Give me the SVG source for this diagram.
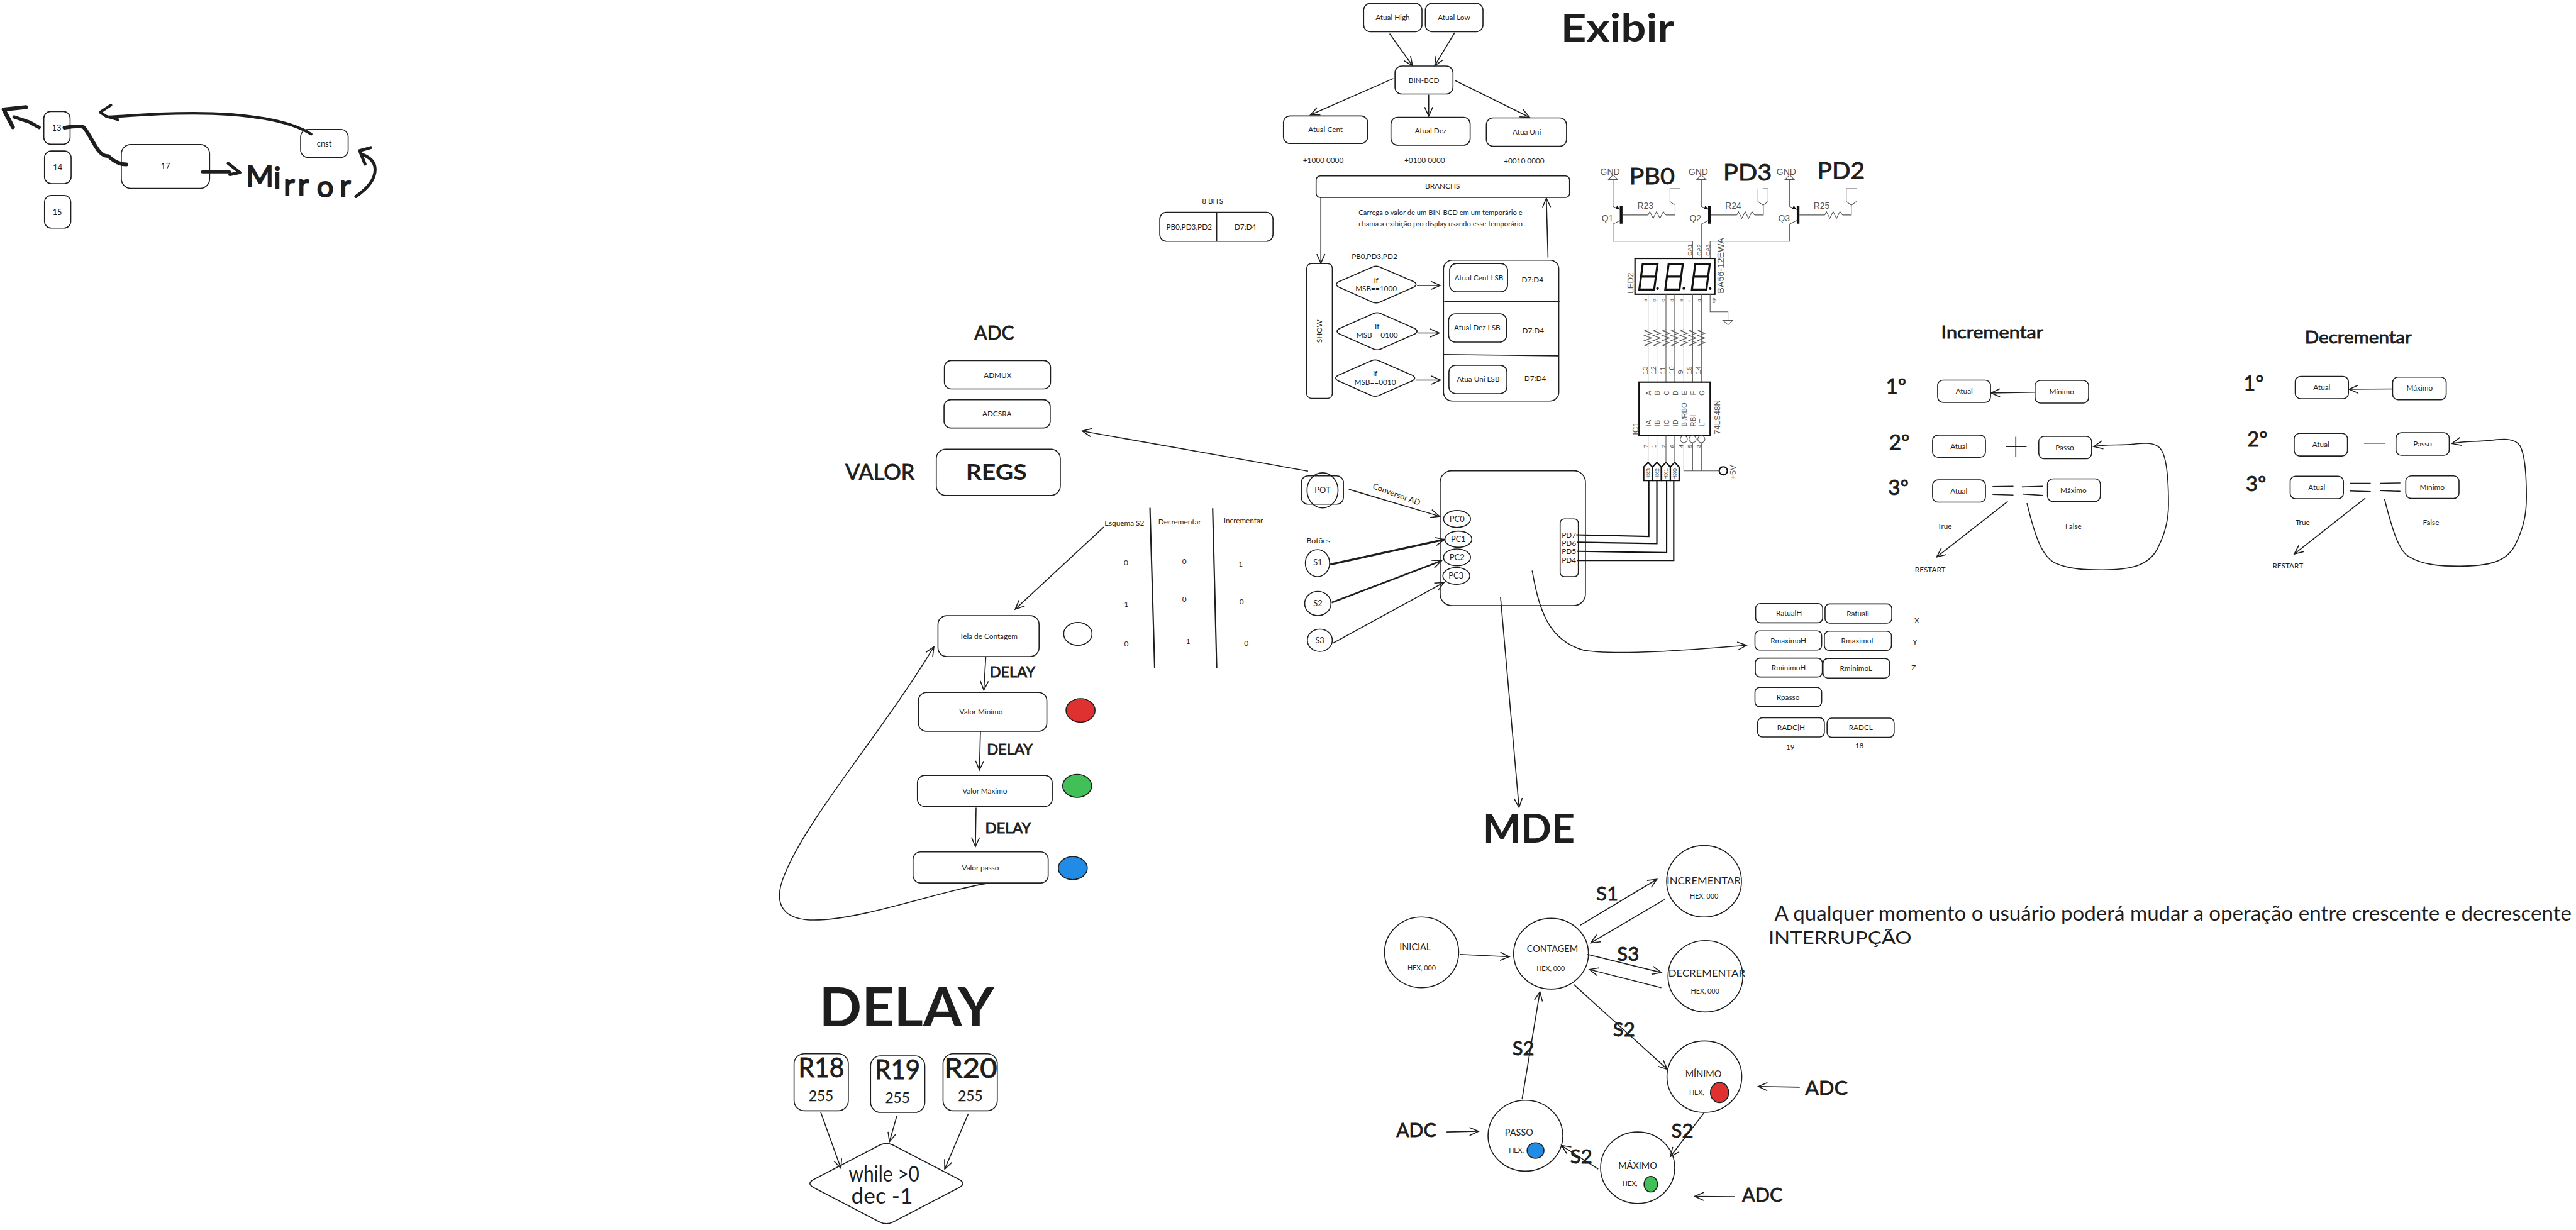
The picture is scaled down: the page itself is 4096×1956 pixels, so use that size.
<svg xmlns="http://www.w3.org/2000/svg" width="4096" height="1956" viewBox="0 0 4096 1956">
<style>
text{font-family:Lato,"Liberation Sans",sans-serif;fill:#1e1e1e}
.t{font-size:22px;text-anchor:middle;dominant-baseline:central}
.b{fill:none;stroke:#1e1e1e;stroke-width:3}
.f{stroke:#1e1e1e;stroke-width:3}
.c{fill:none;stroke:#1e1e1e;stroke-width:3;marker-end:url(#a)}
.l{fill:none;stroke:#1e1e1e;stroke-width:3}
.k{fill:none;stroke:#1e1e1e;stroke-width:10;stroke-linecap:round;stroke-linejoin:round}
.h{font-weight:700;text-anchor:middle}
.m text,text.m{stroke:#1e1e1e;stroke-width:1.600px}
.s text{font-family:"Liberation Sans",Arial,sans-serif;fill:#555}
.w{fill:none;stroke:#555;stroke-width:2}
.x{fill:none;stroke:#111;stroke-width:4}
.d{fill:none;stroke:#111;stroke-width:6}
.p{fill:#111}
</style>
<defs>
<marker id="a" markerUnits="userSpaceOnUse" markerWidth="40" markerHeight="40" viewBox="-34 -20 40 40" refX="0" refY="0" orient="auto" overflow="visible"><path d="M-27,-12L0,0L-27,12" fill="none" stroke="#1e1e1e" stroke-width="3"/></marker>
<path id="rz" d="M0,528l-11,4 22,7-22,7 22,7-22,7 22,7-22,7 11,4"/>
<path id="rh" d="M0,0l5,-10 10,20 10,-20 10,20 10,-20 8,10"/>
<path id="hx" d="M0,922l13,14v40h-26v-40z"/>
</defs>
<rect width="4096" height="1956" fill="#fff"/>
<g transform="scale(.53591)">

<g id="connectors">
<path class="k" d="M116,378L89,363L42,347"/><path class="k" d="M38,377L11,325L77,318" style="stroke-width:12"/>
<path class="k" d="M191,379C215,375 240,372 249,378C275,410 290,465 321,463C340,480 355,488 375,488" style="stroke-width:11"/>
<path class="k" d="M600,510H681M677,485L712,512L682,518" style="stroke-width:9"/>
<path class="k" d="M923,398C860,357 730,336 574,336C450,336 400,343 321,347M329,312L297,333L315,345L350,355" style="stroke-width:8"/>
<path class="k" d="M1056,583C1075,570 1113,540 1113,503C1113,480 1095,465 1071,457M1083,487L1067,447L1100,438" style="stroke-width:9"/>

<path class="c" d="M4123,100L4191,195"/><path class="c" d="M4316,97L4257,195"/>
<path class="c" d="M4134,233L3888,341"/><path class="c" d="M4239,281V345"/><path class="c" d="M4317,239L4538,348"/>
<path class="c" d="M3919,586V781"/><path class="c" d="M4593,764L4588,588"/>
<path class="c" d="M4204,847H4273"/><path class="c" d="M4207,988H4270"/><path class="c" d="M4200,1128H4274"/>
<path class="c" d="M3881,1398L3211,1279"/>
<path class="c" d="M4002,1452L4271,1532"/>
<path class="c" d="M3947,1675L4286,1601" style="stroke-width:6"/>
<path class="c" d="M3951,1788L4277,1664" style="stroke-width:5"/>
<path class="c" d="M3954,1909L4285,1728"/>
<path class="c" d="M4452,1771L4507,2396"/>
<path class="c" d="M4546,1693C4565,1800 4590,1900 4700,1930C4800,1945 5000,1930 5182,1915"/>
<path class="x" d="M4677,1587L4892,1592V1426M4680,1609L4916,1613V1426M4680,1636L4945,1640V1426M4680,1663H4966V1426"/>
<path class="c" d="M3275,1564L3012,1808"/>
<path class="c" d="M2925,1948L2919,2048"/><path class="c" d="M2909,2170L2906,2285"/><path class="c" d="M2896,2397L2894,2512"/>
<path class="c" d="M2931,2621C2800,2640 2560,2730 2415,2730C2320,2730 2290,2680 2330,2590C2400,2420 2620,2170 2771,1919"/>
<path class="c" d="M6037,1164L5907,1166"/><path class="c" d="M5957,1488L5746,1653"/>
<path class="c" d="M6014,1493C6040,1600 6060,1650 6096,1670C6140,1690 6190,1691 6237,1691C6320,1691 6380,1680 6405,1620C6430,1570 6434,1520 6434,1496C6434,1430 6430,1360 6412,1334C6395,1310 6360,1315 6330,1318C6290,1322 6250,1318 6212,1325"/>
<path class="l" d="M5952,1325H6013M5981,1296V1355M5912,1444L5974,1443M5912,1467L5974,1469M5999,1445L6061,1443M6001,1466L6061,1470"/>
<path class="c" d="M7098,1154L6970,1155"/><path class="c" d="M7018,1478L6807,1644"/>
<path class="c" d="M7075,1481C7100,1580 7120,1640 7150,1653C7190,1678 7250,1680 7296,1680C7380,1680 7440,1670 7466,1610C7490,1560 7496,1520 7496,1475C7496,1410 7492,1350 7477,1323C7460,1298 7425,1303 7395,1306C7350,1312 7310,1308 7275,1316"/>
<path class="l" d="M7014,1315H7076M6972,1434H7034M6972,1457L7034,1459M7061,1434L7122,1433M7061,1456L7122,1458"/>
<path class="c" d="M4331,2832L4478,2839"/><path class="c" d="M4688,2746L4916,2609"/><path class="c" d="M4939,2669L4720,2798"/>
<path class="c" d="M4710,2832L4929,2886"/><path class="c" d="M4929,2931L4716,2877"/><path class="c" d="M4670,2922L4947,3173"/>
<path class="c" d="M5056,3302L4956,3432"/><path class="c" d="M4742,3469L4633,3399"/><path class="c" d="M4516,3262L4569,2943"/>
<path class="c" d="M4292,3359L4387,3357"/><path class="c" d="M5147,3551L5028,3550"/><path class="c" d="M5340,3226L5217,3224"/>
<path class="c" d="M2435,3300L2495,3467"/><path class="c" d="M2661,3311L2639,3388"/><path class="c" d="M2873,3305L2803,3469"/>
<path class="l" d="M3412,1507L3426,1982M3598,1508L3610,1982" style="stroke-width:4"/>
</g>

<g id="n13"><rect class="b" x="130" y="331" width="78" height="97" rx="20"/><text class="t" x="168" y="378" style="font-size:24px">13</text></g>
<g id="n14"><rect class="b" x="132" y="448" width="79" height="97" rx="20"/><text class="t" x="171" y="496" style="font-size:24px">14</text></g>
<g id="n15"><rect class="b" x="132" y="580" width="78" height="97" rx="20"/><text class="t" x="170" y="628" style="font-size:24px">15</text></g>
<g id="n17"><rect class="b" x="360" y="429" width="262" height="130" rx="28"/><text class="t" x="491" y="493" style="font-size:24px">17</text></g>
<g id="cnst"><rect class="b" x="892" y="384" width="141" height="83" rx="22"/><text class="t" x="962" y="426" style="font-size:24px">cnst</text></g>
<text id="mirror" class="m" style="font-size:88px;stroke-width:4px" x="730 812 842 884 940 1008" y="552 558 578 578 584 582">Mirror</text>

<g id="atual-high"><rect class="b" x="4046" y="10" width="173" height="84" rx="20"/><text class="t" x="4132" y="52">Atual High</text></g>
<g id="atual-low"><rect class="b" x="4229" y="10" width="171" height="84" rx="20"/><text class="t" x="4314" y="52">Atual Low</text></g>
<g id="bin-bcd"><rect class="b" x="4139" y="196" width="172" height="83" rx="20"/><text class="t" x="4225" y="237">BIN-BCD</text></g>
<g id="atual-cent"><rect class="b" x="3808" y="344" width="250" height="82" rx="20"/><text class="t" x="3933" y="384">Atual Cent</text></g>
<g id="atual-dez"><rect class="b" x="4127" y="348" width="235" height="83" rx="20"/><text class="t" x="4245" y="388">Atual Dez</text></g>
<g id="atua-uni"><rect class="b" x="4410" y="350" width="238" height="84" rx="20"/><text class="t" x="4530" y="391">Atua Uni</text></g>
<text class="t" x="3926" y="474">+1000 0000</text><text class="t" x="4227" y="474">+0100 0000</text><text class="t" x="4522" y="477">+0010 0000</text>
<g id="branchs"><rect class="b" x="3905" y="522" width="752" height="64" rx="12"/><text class="t" x="4280" y="552">BRANCHS</text></g>
<text class="t" x="3598" y="596">8 BITS</text>
<g id="bits"><rect class="b" x="3441" y="630" width="336" height="86" rx="20"/><path class="l" d="M3610,630V716"/><text class="t" x="3528" y="673">PB0,PD3,PD2</text><text class="t" x="3695" y="673">D7:D4</text></g>
<text class="t" x="4274" y="630" style="font-size:21px">Carrega o valor de um BIN-BCD em um temporário e</text>
<text class="t" x="4274" y="664" style="font-size:21px">chama a exibição pro display usando esse temporário</text>
<g id="show"><rect class="b" x="3877" y="782" width="76" height="400" rx="14"/><text class="t" transform="translate(3914,983) rotate(-90)">SHOW</text></g>
<text class="t" x="4078" y="760">PB0,PD3,PD2</text>
<g id="d1"><path class="b" d="M3972,836L4073,792Q4083,788 4093,792L4195,836Q4208,844 4195,852L4093,897Q4083,901 4073,897L3972,852Q3958,844 3972,836Z"/><text class="t" x="4083" y="831">If</text><text class="t" x="4083" y="856">MSB==1000</text></g>
<g id="d2"><path class="b" d="M3974,975L4076,930Q4086,926 4096,930L4198,975Q4211,983 4198,991L4096,1036Q4086,1040 4076,1036L3974,991Q3960,983 3974,975Z"/><text class="t" x="4086" y="968">If</text><text class="t" x="4086" y="994">MSB==0100</text></g>
<g id="d3"><path class="b" d="M3970,1114L4070,1070Q4080,1066 4090,1070L4191,1114Q4204,1122 4191,1130L4090,1174Q4080,1178 4070,1174L3970,1130Q3956,1122 3970,1114Z"/><text class="t" x="4080" y="1108">If</text><text class="t" x="4080" y="1134">MSB==0010</text></g>
<g id="lsb"><rect class="b" x="4283" y="772" width="342" height="418" rx="26"/><path class="l" d="M4285,895H4627M4281,1052L4623,1056"/>
<rect class="b" x="4301" y="782" width="172" height="84" rx="20"/><text class="t" x="4388" y="824">Atual Cent LSB</text><text class="t" x="4547" y="830">D7:D4</text>
<rect class="b" x="4298" y="931" width="172" height="84" rx="20"/><text class="t" x="4383" y="972">Atual Dez LSB</text><text class="t" x="4549" y="981">D7:D4</text>
<rect class="b" x="4299" y="1084" width="172" height="84" rx="20"/><text class="t" x="4386" y="1125">Atua Uni LSB</text><text class="t" x="4555" y="1122">D7:D4</text></g>
<text id="exibir" class="h" x="4799" y="124" style="font-size:115px" textLength="336" lengthAdjust="spacingAndGlyphs">Exibir</text>

<g id="schematic" class="s" transform="translate(4650,450)">
<path class="w" d="M136,83V163L158,172M158,204L136,215V266H372V317M398,83V163L420,172M420,204L398,215V317M660,83V163L682,172M682,204L660,215V266H424V317"/>
<path class="w" d="M122,83H150L136,69ZM384,83H412L398,69ZM646,83H674L660,69Z"/>
<path class="p" d="M148,160L158,172L143,170ZM410,160L420,172L405,170ZM672,160L682,172L667,170Z"/>
<path class="p" d="M156,161h8v53h-8zM418,161h9v53h-9zM681,161h8v53h-8z"/>
<path class="w" d="M164,188H240M293,188H320V159M427,188H503M556,188H582V159M689,188H764M817,188H843V159"/>
<use class="w" href="#rh" x="240" y="188"/><use class="w" href="#rh" x="503" y="188"/><use class="w" href="#rh" x="764" y="188"/>
<path class="w" d="M335,110H305V148L318,158M566,112V148L581,159L596,148V110H580M860,110H828V148L843,159L858,148"/>
<text x="127" y="69" text-anchor="middle" font-size="26">GND</text><text x="389" y="69" text-anchor="middle" font-size="26">GND</text><text x="650" y="69" text-anchor="middle" font-size="26">GND</text>
<text x="102" y="207" font-size="26">Q1</text><text x="363" y="207" font-size="26">Q2</text><text x="626" y="207" font-size="26">Q3</text>
<text x="208" y="169" font-size="26">R23</text><text x="469" y="169" font-size="26">R24</text><text x="731" y="169" font-size="26">R25</text>
<rect class="x" x="201" y="317" width="237" height="106"/>
<path class="d" d="M224,333H268L258,409H214ZM219,371H263M301,333H343L333,409H291ZM296,371H338M380,333H423L413,409H370ZM375,371H418"/>
<circle class="p" cx="268" cy="406" r="4"/><circle class="p" cx="346" cy="406" r="4"/><circle class="p" cx="424" cy="406" r="4"/>
<text transform="translate(370,309) rotate(-90)" font-size="18">CA1</text><text transform="translate(397,309) rotate(-90)" font-size="18">CA2</text><text transform="translate(423,309) rotate(-90)" font-size="18">CA3</text>
<text transform="translate(465,421) rotate(-90)" font-size="27">BA56-12EWA</text>
<text transform="translate(196,421) rotate(-90)" font-size="25">LED2</text>
<path class="w" d="M240,423V684M266,423V684M293,423V684M319,423V684M346,423V684M372,423V684M398,423V684M424,423V475H477V501M462,501H491L477,514Z"/>
<use class="w" href="#rz" x="240"/><use class="w" href="#rz" x="266"/><use class="w" href="#rz" x="293"/><use class="w" href="#rz" x="319"/><use class="w" href="#rz" x="346"/><use class="w" href="#rz" x="372"/><use class="w" href="#rz" x="398"/>
<g font-size="15"><text transform="translate(237,445) rotate(-90)">a</text><text transform="translate(263,445) rotate(-90)">b</text><text transform="translate(290,445) rotate(-90)">c</text><text transform="translate(316,445) rotate(-90)">d</text><text transform="translate(343,445) rotate(-90)">e</text><text transform="translate(369,445) rotate(-90)">f</text><text transform="translate(395,445) rotate(-90)">g</text><text transform="translate(439,450) rotate(-90)">dp</text></g>
<g font-size="21"><text transform="translate(238,660) rotate(-90)">13</text><text transform="translate(264,660) rotate(-90)">12</text><text transform="translate(291,660) rotate(-90)">11</text><text transform="translate(317,660) rotate(-90)">10</text><text transform="translate(344,660) rotate(-90)">9</text><text transform="translate(370,660) rotate(-90)">15</text><text transform="translate(396,660) rotate(-90)">14</text></g>
<rect class="x" x="213" y="684" width="211" height="158"/>
<g font-size="20" text-anchor="middle"><text transform="translate(249,716) rotate(-90)">A</text><text transform="translate(275,716) rotate(-90)">B</text><text transform="translate(302,716) rotate(-90)">C</text><text transform="translate(328,716) rotate(-90)">D</text><text transform="translate(355,716) rotate(-90)">E</text><text transform="translate(381,716) rotate(-90)">F</text><text transform="translate(407,716) rotate(-90)">G</text></g>
<g font-size="21"><text transform="translate(249,816) rotate(-90)">IA</text><text transform="translate(275,816) rotate(-90)">IB</text><text transform="translate(302,816) rotate(-90)">IC</text><text transform="translate(328,816) rotate(-90)">ID</text><text transform="translate(355,816) rotate(-90)">BI/RBO</text><text transform="translate(381,816) rotate(-90)">RBI</text><text transform="translate(407,816) rotate(-90)">LT</text></g>
<text transform="translate(453,839) rotate(-90)" font-size="24.5">74LS48N</text>
<text transform="translate(210,841) rotate(-90)" font-size="25">IC1</text>
<path class="w" d="M240,842V922M266,842V922M293,842V922M319,842V922M346,864V947H451M372,864V947M398,864V947"/>
<circle class="w" cx="346" cy="853" r="10.500"/><circle class="w" cx="372" cy="853" r="10.500"/><circle class="w" cx="398" cy="853" r="10.500"/>
<circle class="x" cx="463" cy="947" r="12"/>
<text transform="translate(501,973) rotate(-90)" font-size="24">+5V</text>
<g font-size="18"><text transform="translate(238,879) rotate(-90)">7</text><text transform="translate(264,879) rotate(-90)">1</text><text transform="translate(291,879) rotate(-90)">2</text><text transform="translate(317,879) rotate(-90)">6</text><text transform="translate(344,879) rotate(-90)">4</text><text transform="translate(370,879) rotate(-90)">5</text><text transform="translate(396,879) rotate(-90)">3</text></g>
<use class="x" href="#hx" x="240"/><use class="x" href="#hx" x="266"/><use class="x" href="#hx" x="293"/><use class="x" href="#hx" x="319"/>
<g font-size="17"><text transform="translate(246,973) rotate(-90)">HX3</text><text transform="translate(272,973) rotate(-90)">HX2</text><text transform="translate(299,973) rotate(-90)">HX1</text><text transform="translate(325,973) rotate(-90)">HX0</text></g>
</g>
<g class="m" style="font-size:68px"><text x="4834" y="546" textLength="135" lengthAdjust="spacingAndGlyphs">PB0</text><text x="5113" y="536" textLength="144" lengthAdjust="spacingAndGlyphs">PD3</text><text x="5392" y="530" textLength="141" lengthAdjust="spacingAndGlyphs">PD2</text></g>

<text class="h m" x="2950" y="1008" style="font-size:56px;font-weight:400">ADC</text>
<g id="admux"><rect class="b" x="2802" y="1070" width="315" height="84" rx="20"/><text class="t" x="2960" y="1113">ADMUX</text></g>
<g id="adcsra"><rect class="b" x="2801" y="1186" width="315" height="84" rx="20"/><text class="t" x="2958" y="1227">ADCSRA</text></g>
<g id="regs"><rect class="b" x="2778" y="1333" width="368" height="137" rx="28"/><text class="h" x="2956" y="1423" style="font-size:64px" textLength="181" lengthAdjust="spacingAndGlyphs">REGS</text></g>
<text class="h m" x="2611" y="1423" style="font-size:64px;font-weight:400" textLength="206" lengthAdjust="spacingAndGlyphs">VALOR</text>
<text class="t" x="3336" y="1552">Esquema S2</text><text class="t" x="3500" y="1548">Decrementar</text><text class="t" x="3689" y="1545">Incrementar</text>
<text class="t" x="3341" y="1670">0</text><text class="t" x="3342" y="1792">1</text><text class="t" x="3342" y="1909">0</text>
<text class="t" x="3514" y="1665">0</text><text class="t" x="3514" y="1778">0</text><text class="t" x="3525" y="1902">1</text>
<text class="t" x="3681" y="1672">1</text><text class="t" x="3684" y="1784">0</text><text class="t" x="3698" y="1908">0</text>

<g id="tela"><rect class="b" x="2783" y="1827" width="300" height="121" rx="26"/><text class="t" x="2933" y="1887">Tela de Contagem</text></g>
<ellipse class="b" cx="3198" cy="1881" rx="42" ry="34"/>
<g id="vmin"><rect class="b" x="2725" y="2055" width="381" height="115" rx="24"/><text class="t" x="2911" y="2112">Valor Minimo</text></g>
<ellipse class="f" cx="3206" cy="2108" rx="43" ry="35" fill="#e03131"/>
<g id="vmax"><rect class="b" x="2722" y="2301" width="400" height="92" rx="22"/><text class="t" x="2922" y="2346">Valor Máximo</text></g>
<ellipse class="f" cx="3196" cy="2332" rx="43" ry="34" fill="#40c057"/>
<g id="vpasso"><rect class="b" x="2709" y="2528" width="401" height="92" rx="22"/><text class="t" x="2909" y="2574">Valor passo</text></g>
<ellipse class="f" cx="3183" cy="2576" rx="43" ry="34" fill="#228be6"/>
<g class="m" style="font-size:42px"><text class="h" x="3004" y="2009" textLength="135" lengthAdjust="spacingAndGlyphs" style="font-weight:400">DELAY</text><text class="h" x="2996" y="2239" textLength="136" lengthAdjust="spacingAndGlyphs" style="font-weight:400">DELAY</text><text class="h" x="2991" y="2473" textLength="136" lengthAdjust="spacingAndGlyphs" style="font-weight:400">DELAY</text></g>

<g id="pot"><rect class="b" x="3861" y="1412" width="125" height="84" rx="20"/><ellipse class="b" cx="3924" cy="1455" rx="46" ry="52"/><text class="t" x="3924" y="1454" style="font-size:24px">POT</text></g>
<text class="t" transform="translate(4144,1466) rotate(20)" style="font-size:24px">Conversor AD</text>
<text class="t" x="3912" y="1604" style="font-size:23px">Botões</text>
<g id="s1"><ellipse class="b" cx="3909" cy="1671" rx="36" ry="40"/><text class="t" x="3910" y="1669" style="font-size:24px">S1</text></g>
<g id="s2"><ellipse class="b" cx="3910" cy="1791" rx="39" ry="36"/><text class="t" x="3910" y="1790" style="font-size:24px">S2</text></g>
<g id="s3"><ellipse class="b" cx="3916" cy="1900" rx="37" ry="33"/><text class="t" x="3916" y="1899" style="font-size:24px">S3</text></g>
<g id="mcu"><rect class="b" x="4273" y="1397" width="431" height="400" rx="34"/>
<ellipse class="b" cx="4323" cy="1540" rx="40" ry="25"/><text class="t" x="4323" y="1539" style="font-size:24px">PC0</text>
<ellipse class="b" cx="4327" cy="1600" rx="40" ry="24"/><text class="t" x="4327" y="1600" style="font-size:24px">PC1</text>
<ellipse class="b" cx="4323" cy="1654" rx="40" ry="25"/><text class="t" x="4323" y="1653" style="font-size:24px">PC2</text>
<ellipse class="b" cx="4321" cy="1709" rx="40" ry="25"/><text class="t" x="4320" y="1708" style="font-size:24px">PC3</text>
<rect class="b" x="4629" y="1540" width="54" height="171" rx="12"/>
<g style="font-size:24px"><text class="t" x="4655" y="1587">PD7</text><text class="t" x="4655" y="1611">PD6</text><text class="t" x="4655" y="1636">PD5</text><text class="t" x="4655" y="1662">PD4</text></g></g>

<g id="ratualh"><rect class="b" x="5209" y="1791" width="199" height="57" rx="14"/><text class="t" x="5308" y="1819">RatualH</text></g>
<g id="ratuall"><rect class="b" x="5415" y="1792" width="198" height="57" rx="14"/><text class="t" x="5515" y="1820">RatualL</text></g>
<g id="rmaxh"><rect class="b" x="5207" y="1872" width="198" height="57" rx="14"/><text class="t" x="5306" y="1900">RmaximoH</text></g>
<g id="rmaxl"><rect class="b" x="5413" y="1873" width="199" height="57" rx="14"/><text class="t" x="5513" y="1901">RmaximoL</text></g>
<g id="rminh"><rect class="b" x="5208" y="1953" width="199" height="56" rx="14"/><text class="t" x="5307" y="1980">RminimoH</text></g>
<g id="rminl"><rect class="b" x="5409" y="1954" width="198" height="58" rx="14"/><text class="t" x="5507" y="1982">RminimoL</text></g>
<g id="rpasso"><rect class="b" x="5207" y="2040" width="198" height="57" rx="14"/><text class="t" x="5305" y="2069">Rpasso</text></g>
<g id="radch"><rect class="b" x="5215" y="2130" width="198" height="57" rx="14"/><text class="t" x="5314" y="2158">RADC|H</text></g>
<g id="radcl"><rect class="b" x="5421" y="2131" width="199" height="57" rx="14"/><text class="t" x="5521" y="2158">RADCL</text></g>
<text class="t" x="5687" y="1841">X</text><text class="t" x="5682" y="1904">Y</text><text class="t" x="5678" y="1980">Z</text><text class="t" x="5312" y="2216">19</text><text class="t" x="5517" y="2212">18</text>

<text class="h m" x="5911" y="1003" style="font-size:50px;font-weight:400" textLength="303" lengthAdjust="spacingAndGlyphs">Incrementar</text>
<g class="m" style="font-size:62px"><text x="5595" y="1168">1º</text><text x="5605" y="1334">2º</text><text x="5602" y="1469">3º</text></g>
<g id="i1a"><rect class="b" x="5749" y="1128" width="157" height="66" rx="16"/><text class="t" x="5828" y="1160">Atual</text></g>
<g id="i1b"><rect class="b" x="6038" y="1129" width="159" height="67" rx="16"/><text class="t" x="6117" y="1162">Mínimo</text></g>
<g id="i2a"><rect class="b" x="5734" y="1291" width="157" height="66" rx="16"/><text class="t" x="5812" y="1323">Atual</text></g>
<g id="i2b"><rect class="b" x="6049" y="1295" width="157" height="66" rx="16"/><text class="t" x="6126" y="1327">Passo</text></g>
<g id="i3a"><rect class="b" x="5734" y="1424" width="157" height="66" rx="16"/><text class="t" x="5812" y="1456">Atual</text></g>
<g id="i3b"><rect class="b" x="6075" y="1421" width="157" height="67" rx="16"/><text class="t" x="6152" y="1454">Máximo</text></g>
<text class="t" x="5770" y="1561">True</text><text class="t" x="6152" y="1561">False</text><text class="t" x="5727" y="1690">RESTART</text>

<text class="h m" x="6997" y="1018" style="font-size:50px;font-weight:400" textLength="317" lengthAdjust="spacingAndGlyphs">Decrementar</text>
<g class="m" style="font-size:62px"><text x="6656" y="1159">1º</text><text x="6667" y="1324">2º</text><text x="6663" y="1458">3º</text></g>
<g id="d1a"><rect class="b" x="6810" y="1117" width="158" height="66" rx="16"/><text class="t" x="6889" y="1149">Atual</text></g>
<g id="d1b"><rect class="b" x="7099" y="1119" width="159" height="67" rx="16"/><text class="t" x="7179" y="1151">Máximo</text></g>
<g id="d2a"><rect class="b" x="6807" y="1286" width="158" height="67" rx="16"/><text class="t" x="6886" y="1319">Atual</text></g>
<g id="d2b"><rect class="b" x="7109" y="1284" width="158" height="67" rx="16"/><text class="t" x="7188" y="1317">Passo</text></g>
<g id="d3a"><rect class="b" x="6795" y="1413" width="158" height="67" rx="16"/><text class="t" x="6874" y="1446">Atual</text></g>
<g id="d3b"><rect class="b" x="7138" y="1412" width="158" height="67" rx="16"/><text class="t" x="7216" y="1445">Mínimo</text></g>
<text class="t" x="6832" y="1550">True</text><text class="t" x="7213" y="1550">False</text><text class="t" x="6788" y="1679">RESTART</text>

<text class="h" x="4536" y="2500" style="font-size:116px" textLength="273" lengthAdjust="spacingAndGlyphs">MDE</text>
<g id="st-inicial"><ellipse class="b" cx="4218" cy="2826" rx="110" ry="105"/><text class="t" x="4199" y="2810" style="font-size:27px">INICIAL</text><text class="t" x="4218" y="2870" style="font-size:20px">HEX, 000</text></g>
<g id="st-contagem"><ellipse class="b" cx="4602" cy="2830" rx="111" ry="105"/><text class="t" x="4606" y="2814" style="font-size:27px">CONTAGEM</text><text class="t" x="4601" y="2873" style="font-size:20px">HEX, 000</text></g>
<g id="st-inc"><ellipse class="b" cx="5056" cy="2615" rx="111" ry="106"/><text class="t" x="5055" y="2614" style="font-size:27px" textLength="220" lengthAdjust="spacingAndGlyphs">INCREMENTAR</text><text class="t" x="5056" y="2658" style="font-size:20px">HEX, 000</text></g>
<g id="st-dec"><ellipse class="b" cx="5060" cy="2897" rx="111" ry="106"/><text class="t" x="5064" y="2887" style="font-size:27px" textLength="228" lengthAdjust="spacingAndGlyphs">DECREMENTAR</text><text class="t" x="5059" y="2940" style="font-size:20px">HEX, 000</text></g>
<g id="st-min"><ellipse class="b" cx="5057" cy="3195" rx="111" ry="106"/><text class="t" x="5054" y="3187" style="font-size:27px">MÍNIMO</text><text class="t" x="5034" y="3240" style="font-size:20px">HEX,</text><ellipse class="f" cx="5102" cy="3242" rx="27" ry="30" fill="#e03131"/></g>
<g id="st-max"><ellipse class="b" cx="4859" cy="3465" rx="110" ry="106"/><text class="t" x="4859" y="3459" style="font-size:27px">MÁXIMO</text><text class="t" x="4836" y="3510" style="font-size:20px">HEX,</text><ellipse class="f" cx="4898" cy="3514" rx="20" ry="23" fill="#40c057"/></g>
<g id="st-passo"><ellipse class="b" cx="4526" cy="3370" rx="111" ry="105"/><text class="t" x="4507" y="3360" style="font-size:27px">PASSO</text><text class="t" x="4499" y="3412" style="font-size:20px">HEX,</text><ellipse class="f" cx="4556" cy="3414" rx="25" ry="23" fill="#228be6"/></g>
<g class="m" style="font-size:58px"><text x="4736" y="2673">S1</text><text x="4798" y="2852">S3</text><text x="4786" y="3076">S2</text><text x="4487" y="3132">S2</text><text x="4959" y="3376">S2</text><text x="4659" y="3453">S2</text></g>
<g class="m" style="font-size:58px"><text x="4143" y="3374" textLength="118" lengthAdjust="spacingAndGlyphs">ADC</text><text x="5169" y="3566" textLength="120" lengthAdjust="spacingAndGlyphs">ADC</text><text x="5356" y="3248" textLength="126" lengthAdjust="spacingAndGlyphs">ADC</text></g>

<text class="h" x="2690" y="3045" style="font-size:160px" textLength="519" lengthAdjust="spacingAndGlyphs">DELAY</text>
<g id="r18" class="m"><rect class="b" x="2356" y="3127" width="161" height="169" rx="30"/><text class="h" x="2437" y="3197" style="font-size:78px;font-weight:400" textLength="136" lengthAdjust="spacingAndGlyphs">R18</text><text class="h" x="2436" y="3268" style="font-size:42px;font-weight:400;stroke-width:.5px">255</text></g>
<g id="r19" class="m"><rect class="b" x="2583" y="3133" width="161" height="168" rx="30"/><text class="h" x="2663" y="3202" style="font-size:78px;font-weight:400" textLength="134" lengthAdjust="spacingAndGlyphs">R19</text><text class="h" x="2663" y="3273" style="font-size:42px;font-weight:400;stroke-width:.5px">255</text></g>
<g id="r20" class="m"><rect class="b" x="2798" y="3127" width="161" height="169" rx="30"/><text class="h" x="2880" y="3199" style="font-size:78px;font-weight:400" textLength="157" lengthAdjust="spacingAndGlyphs">R20</text><text class="h" x="2879" y="3268" style="font-size:42px;font-weight:400;stroke-width:.5px">255</text></g>
<g id="while"><path class="b" d="M2414,3500L2610,3398Q2630,3388 2650,3398L2846,3500Q2868,3512 2846,3524L2650,3626Q2630,3636 2610,3626L2414,3524Q2392,3512 2414,3500Z"/><text class="h" x="2623" y="3506" style="font-size:66px;font-weight:400" textLength="210" lengthAdjust="spacingAndGlyphs">while &gt;0</text><text class="h" x="2617" y="3572" style="font-size:66px;font-weight:400">dec -1</text></g>

<text x="5265" y="2732" style="font-size:60px" textLength="2365" lengthAdjust="spacingAndGlyphs">A qualquer momento o usuário poderá mudar a operação entre crescente e decrescente</text>
<text x="5247" y="2800" style="font-size:52px" textLength="425" lengthAdjust="spacingAndGlyphs">INTERRUPÇÃO</text>
</g>
</svg>
